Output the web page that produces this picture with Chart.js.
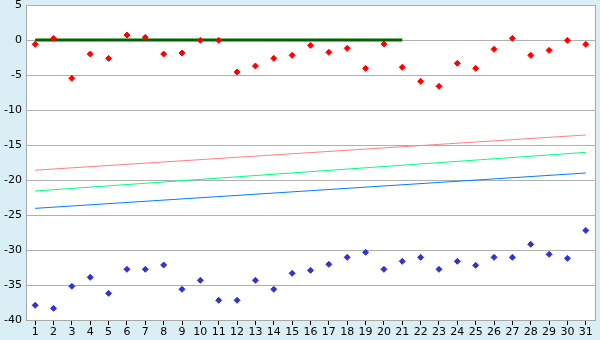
<!DOCTYPE html>
<html><head><meta charset="utf-8">
<script src="https://cdn.jsdelivr.net/npm/chart.js@4"></script>
<style>html,body{margin:0;padding:0;background:#d9eff5}#c{display:block}</style>
</head><body>
<canvas id="c" width="600" height="340"></canvas>
<script>
const categories = ['1','2','3','4','5','6','7','8','9','10','11','12','13','14','15','16','17','18','19','20','21','22','23','24','25','26','27','28','29','30','31'];
const redPoints = [-0.62,0.24,-5.48,-2.0,-2.62,0.71,0.38,-2.0,-1.86,-0.05,-0.05,-4.57,-3.71,-2.62,-2.19,-0.76,-1.76,-1.19,-4.05,-0.57,-3.9,-5.9,-6.62,-3.33,-4.05,-1.33,0.24,-2.19,-1.48,-0.05,-0.62];
const bluePoints = [-37.9,-38.33,-35.19,-33.9,-36.19,-32.76,-32.76,-32.14,-35.62,-34.33,-37.19,-37.19,-34.33,-35.62,-33.33,-32.9,-32.05,-31.05,-30.33,-32.76,-31.62,-31.05,-32.76,-31.62,-32.19,-31.05,-31.05,-29.19,-30.62,-31.19,-27.2];
const zeroLine = [0,null,null,null,null,null,null,null,null,null,null,null,null,null,null,null,null,null,null,null,0,null,null,null,null,null,null,null,null,null,null];
const redTrend = [-18.6,null,null,null,null,null,null,null,null,null,null,null,null,null,null,null,null,null,null,null,null,null,null,null,null,null,null,null,null,null,-13.57];
const greenTrend = [-21.57,null,null,null,null,null,null,null,null,null,null,null,null,null,null,null,null,null,null,null,null,null,null,null,null,null,null,null,null,null,-16.05];
const blueTrend = [-24.05,null,null,null,null,null,null,null,null,null,null,null,null,null,null,null,null,null,null,null,null,null,null,null,null,null,null,null,null,null,-19.0];
const yTicks = [5,0,-5,-10,-15,-20,-25,-30,-35,-40];

const bgPlugin = {
  id: 'bg',
  beforeDraw(chart) {
    const {ctx, chartArea: a} = chart;
    ctx.save();
    ctx.fillStyle = '#d9eff5';
    ctx.fillRect(0, 0, chart.width, chart.height);
    ctx.fillStyle = '#ffffff';
    ctx.fillRect(a.left, a.top, a.right - a.left, a.bottom - a.top);
    ctx.restore();
  },
  afterDatasetsDraw(chart) {
    const {ctx, chartArea: a} = chart;
    ctx.save();
    ctx.strokeStyle = '#a8a8a8';
    ctx.lineWidth = 1;
    ctx.beginPath();
    ctx.moveTo(Math.round(a.right) + 0.5, a.top);
    ctx.lineTo(Math.round(a.right) + 0.5, a.bottom);
    ctx.stroke();
    ctx.restore();
  }
};

const lineDs = (data, color, w, order) => ({
  type: 'line', data, borderColor: color, borderWidth: w, pointRadius: 0,
  spanGaps: true, fill: false, tension: 0, order
});
const ptDs = (data, color) => ({
  type: 'line', data, showLine: false, pointStyle: 'rectRot', pointRadius: 3,
  pointBackgroundColor: color, pointBorderColor: color, pointBorderWidth: 1, order: 0
});

new Chart(document.getElementById('c'), {
  type: 'line',
  data: {
    labels: categories,
    datasets: [
      ptDs(redPoints, '#ff0000'),
      ptDs(bluePoints, '#3333cc'),
      lineDs(zeroLine, '#006400', 3, 1),
      lineDs(redTrend, '#ff8080', 1, 2),
      lineDs(greenTrend, '#00ff80', 1, 2),
      lineDs(blueTrend, '#0080ff', 1, 2)
    ]
  },
  options: {
    responsive: false,
    animation: false,
    events: [],
    layout: {padding: {top: 5, right: 5, left: 0, bottom: 0}},
    plugins: {legend: {display: false}, tooltip: {enabled: false}},
    scales: {
      x: {
        offset: true,
        grid: {display: true, drawOnChartArea: false, drawTicks: true, tickLength: 5, color: '#000000', offset: false},
        border: {display: true, color: '#a8a8a8'},
        ticks: {color: '#000', font: {family: 'DejaVu Sans', size: 11}, padding: 1, maxRotation: 0, autoSkip: false},
        afterFit(s) { s.height = 20; s.paddingLeft = 0; s.paddingRight = 0; }
      },
      y: {
        min: -40, max: 5,
        afterBuildTicks(s) { s.ticks = yTicks.map(v => ({value: v})); },
        grid: {color: '#b0b0b0', drawTicks: false},
        border: {display: true, color: '#a8a8a8'},
        ticks: {color: '#000', font: {family: 'DejaVu Sans', size: 11}, padding: 4},
        afterFit(s) { s.width = 26; s.paddingTop = 0; s.paddingBottom = 0; }
      }
    }
  },
  plugins: [bgPlugin]
});
</script>
</body></html>
